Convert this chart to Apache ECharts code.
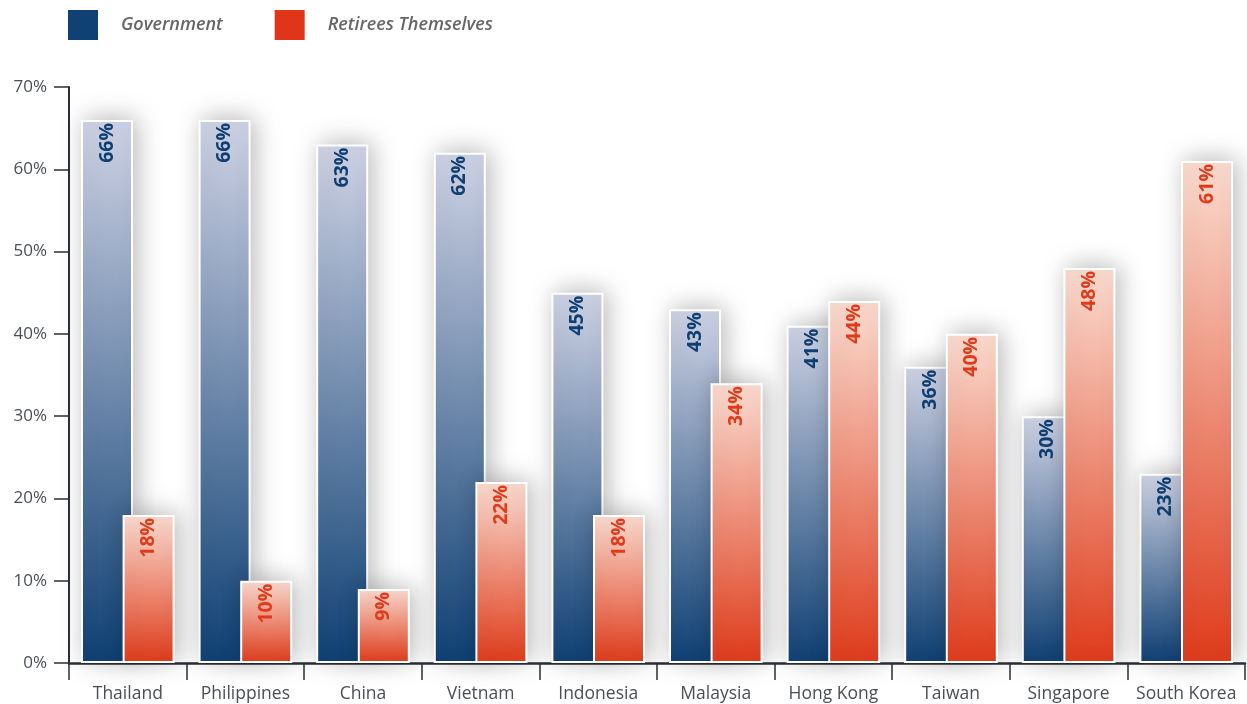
<!DOCTYPE html>
<html><head><meta charset="utf-8">
<script src="https://cdn.jsdelivr.net/npm/echarts@6/dist/echarts.min.js"></script>
<style>html,body{margin:0;padding:0;background:#fff}#c{width:1247px;height:704px}</style>
</head><body><div id="c"></div>
<script>
const categories = ['Thailand','Philippines','China','Vietnam','Indonesia','Malaysia','Hong Kong','Taiwan','Singapore','South Korea'];
const government = [66,66,63,62,45,43,41,36,30,23];
const retirees = [18,10,9,22,18,34,44,40,48,61];
const yTicks = [0,10,20,30,40,50,60,70];

const font = '"Open Sans", "Noto Sans", sans-serif';
const chart = echarts.init(document.getElementById('c'));
const grad = (top, bottom) => new echarts.graphic.LinearGradient(0,0,0,1,[{offset:0,color:top},{offset:1,color:bottom}]);
const label = (color) => ({
  show:true, position:'insideTop', rotate:90, align:'right', verticalAlign:'middle', distance:3,
  formatter:'{c}%', color:color, fontSize:19.5, fontWeight:'bold', fontFamily:font
});
chart.setOption({
  animation:false,
  legend:{
    left:68, top:10, padding:0, itemWidth:30, itemHeight:30, itemGap:52, icon:'rect',
    textStyle:{fontFamily:font, fontStyle:'italic', fontWeight:600, fontSize:18, color:'#666', padding:[0,0,0,18]},
    data:[{name:'Government', itemStyle:{color:'#0f4175', borderWidth:0, shadowBlur:0}},
          {name:'Retirees Themselves', itemStyle:{color:'#e03518', borderWidth:0, shadowBlur:0}}]
  },
  grid:{left:69, right:2, top:87, bottom:41},
  xAxis:{
    type:'category', data:categories, boundaryGap:true,
    axisLine:{lineStyle:{color:'#2b3036', width:2.5}},
    axisTick:{show:true, interval:0, length:17, inside:false, lineStyle:{color:'#2b3036', width:1.5}},
    axisLabel:{interval:0, margin:22, fontFamily:font, fontSize:17.5, color:'#4a4f55'}
  },
  yAxis:{
    type:'value', min:0, max:70, interval:10,
    axisLine:{show:true, lineStyle:{color:'#2b3036', width:2}},
    axisTick:{show:true, length:15, lineStyle:{color:'#2b3036', width:1.5}},
    axisLabel:{formatter:v=>yTicks.includes(v)?v+'%':'', margin:22, fontFamily:font, fontSize:17, color:'#4a4f55'},
    splitLine:{show:false}
  },
  series:[
    {name:'Government', type:'bar', data:government, barWidth:52, barGap:'-20%',
     itemStyle:{color:grad('#cfd3e5','#0f4175'), borderColor:'#fff', borderWidth:2,
       shadowBlur:26, shadowColor:'rgba(0,0,0,0.28)', shadowOffsetX:4, shadowOffsetY:-2},
     label:label('#0f3f72')},
    {name:'Retirees Themselves', type:'bar', data:retirees, barWidth:52,
     itemStyle:{color:grad('#fbdcd0','#e03c1b'), borderColor:'#fff', borderWidth:2,
       shadowBlur:26, shadowColor:'rgba(0,0,0,0.28)', shadowOffsetX:4, shadowOffsetY:-2},
     label:label('#e03a1a')}
  ]
});
</script></body></html>
